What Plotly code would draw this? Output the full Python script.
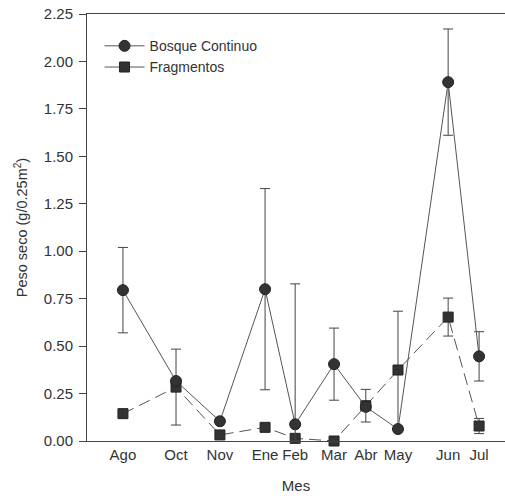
import plotly.graph_objects as go

# Sampling months (positions along the sampling timeline, arbitrary units)
months = ["Ago", "Oct", "Nov", "Ene", "Feb", "Mar", "Abr", "May", "Jun", "Jul"]
month_pos = [8.6, 21.3, 31.8, 42.6, 49.8, 59.1, 66.7, 74.4, 86.4, 93.8]

bosque = [0.795, 0.316, 0.104, 0.80, 0.088, 0.405, 0.18, 0.063, 1.891, 0.446]
bosque_err_plus = [0.225, 0, 0, 0.53, 0.74, 0.19, 0, 0, 0.28, 0.13]
bosque_err_minus = [0.225, 0, 0, 0.53, 0.088, 0.19, 0, 0, 0.28, 0.13]

frag = [0.144, 0.284, 0.032, 0.072, 0.014, 0.0, 0.186, 0.374, 0.653, 0.079]
frag_err = [0, 0.2, 0, 0.015, 0, 0, 0.086, 0.31, 0.1, 0.04]

y_ticks = [0, 0.25, 0.5, 0.75, 1.0, 1.25, 1.5, 1.75, 2.0, 2.25]

FONT = "Liberation Sans, Arial, sans-serif"
DARK = "#333333"
LINE = "#555555"

fig = go.Figure()

fig.add_trace(go.Scatter(
    x=month_pos, y=frag, mode="lines+markers", showlegend=False,
    line=dict(color=LINE, width=1, dash="12px,6px"),
    marker=dict(symbol="square", size=10, color=DARK, line=dict(color="#222", width=1)),
    error_y=dict(type="data", array=frag_err, visible=True, color="#444", thickness=1, width=5),
    cliponaxis=False,
))
fig.add_trace(go.Scatter(
    x=month_pos, y=bosque, mode="lines+markers", showlegend=False,
    line=dict(color=LINE, width=1),
    marker=dict(symbol="circle", size=11, color=DARK, line=dict(color="#222", width=1)),
    error_y=dict(type="data", array=bosque_err_plus, arrayminus=bosque_err_minus,
                 symmetric=False, visible=True, color="#444", thickness=1, width=5),
    cliponaxis=False,
))

# legend entries (solid sample lines as in the original)
fig.add_trace(go.Scatter(
    x=[None], y=[None], mode="lines+markers", name="Bosque Continuo",
    line=dict(color=LINE, width=1),
    marker=dict(symbol="circle", size=11, color=DARK, line=dict(color="#222", width=1)),
))
fig.add_trace(go.Scatter(
    x=[None], y=[None], mode="lines+markers", name="Fragmentos",
    line=dict(color=LINE, width=1),
    marker=dict(symbol="square", size=10, color=DARK, line=dict(color="#222", width=1)),
))

fig.update_layout(
    width=505, height=496,
    margin=dict(l=87, r=0, t=14, b=55),
    paper_bgcolor="white", plot_bgcolor="white",
    font=dict(family=FONT, size=15, color=DARK),
    legend=dict(x=0.03, y=0.962, xanchor="left", yanchor="top",
                bgcolor="rgba(0,0,0,0)", font=dict(size=14, color=DARK),
                itemwidth=40, tracegroupgap=0),
    xaxis=dict(
        range=[0, 100], tickmode="array", tickvals=month_pos, ticktext=months,
        showgrid=False, zeroline=False, showline=True, linecolor="#444", linewidth=1,
        mirror=True, ticks="", tickfont=dict(size=15, color=DARK),
        title=dict(text="Mes", font=dict(size=15, color=DARK), standoff=18),
    ),
    yaxis=dict(
        range=[0, 2.25], tickmode="array", tickvals=y_ticks, tickformat=".2f",
        showgrid=False, zeroline=False, showline=True, linecolor="#444", linewidth=1,
        ticks="outside", ticklen=7, tickcolor="#444", tickfont=dict(size=15, color=DARK),
        ticklabelstandoff=3,
        title=dict(text="Peso seco (g/0.25m<sup>2</sup>)", font=dict(size=14.5, color=DARK), standoff=12),
    ),
)

fig.write_html("out.html")
